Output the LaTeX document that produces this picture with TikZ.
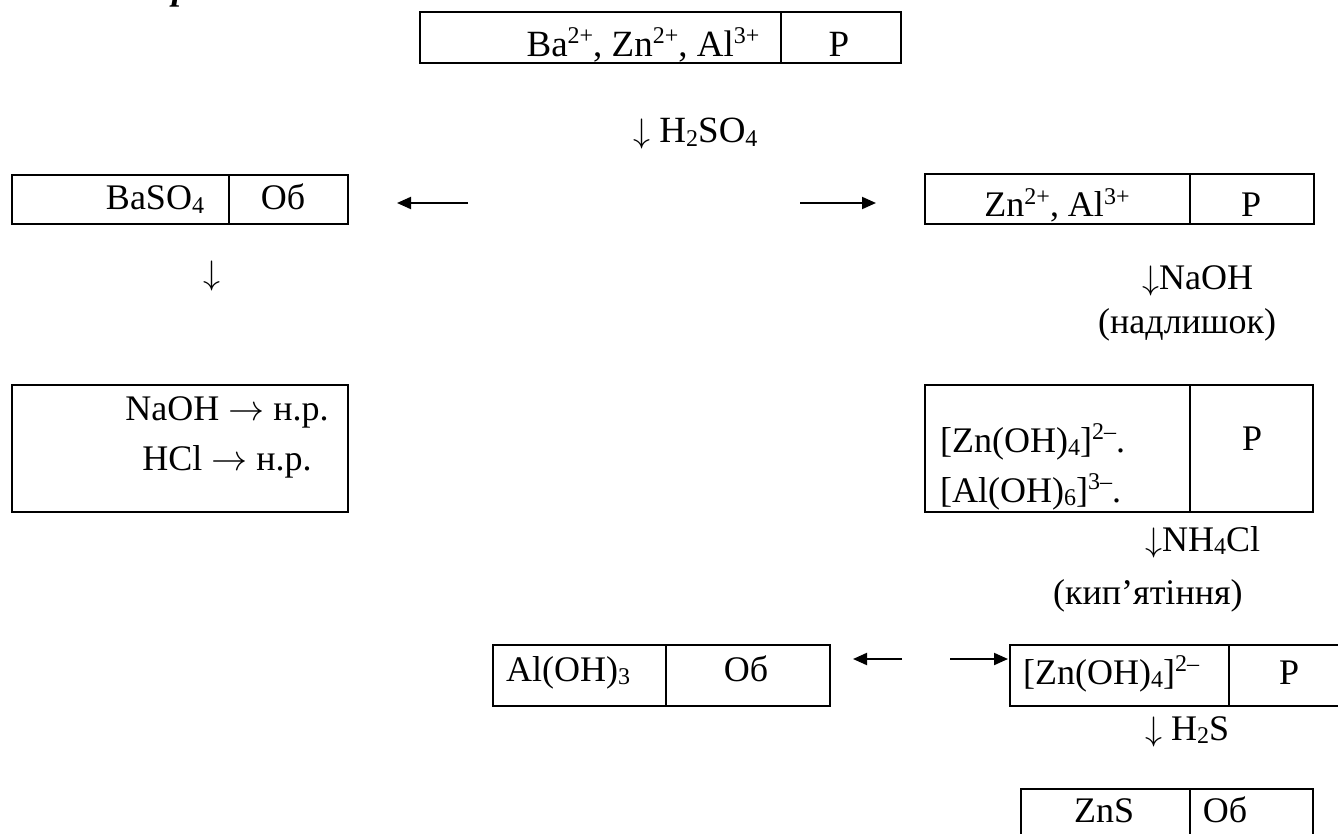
\documentclass[tikz,border=0pt]{standalone}
\usepackage{graphicx}
\usepackage{fontspec}
\setmainfont{Liberation Serif}
\usetikzlibrary{arrows.meta,fit}
\newcommand\mysup[1]{\raisebox{0.36em}{\fontsize{24}{24}\selectfont #1}}
\newcommand\mysub[1]{\raisebox{-0.1em}{\fontsize{24}{24}\selectfont #1}}
\newcommand\dn{{\fontsize{10}{12}\selectfont\scalebox{3.4}{$\downarrow$}}}
\newcommand\rar{{\fontsize{10}{12}\selectfont\scalebox{3.6}{$\rightarrow$}}}
\begin{document}
\begin{tikzpicture}[x=1pt,y=-1pt,
  cell/.style={draw, line width=2pt, inner sep=0pt, outer sep=0pt},
  lbl/.style={inner sep=0pt, font=\fontsize{36}{43}\selectfont},
  biglbl/.style={inner sep=0pt, font=\fontsize{37}{45}\selectfont},
  harrow/.style={line width=2pt, -{Triangle[length=14pt,width=12pt]}}]
\clip (0,0) rectangle (1338,834);
\fill[white] (0,0) rectangle (1338,834);
% fragment of a cut-off heading letter
\node[anchor=base west, inner sep=0pt, font=\fontsize{36}{43}\selectfont\bfseries\itshape] (frag) at (172,0) {р};
% top box
\node[cell, fit={(420,12) (781,63)}] (topL) {};
\node[cell, fit={(781,12) (901,63)}] (topR) {};
\node[biglbl, anchor=base] (tTop) at (643,57) {Ba\mysup{2+}, Zn\mysup{2+}, Al\mysup{3+}};
\node[biglbl, anchor=base] (tTopR) at (839,57) {Р};
\node[biglbl, anchor=base west] (tH2SO4) at (633,143) {\dn\ H\mysub{2}SO\mysub{4}};
% BaSO4 box
\node[cell, fit={(12,175) (229,224)}] (baL) {};
\node[cell, fit={(229,175) (348,224)}] (baR) {};
\node[lbl, anchor=base] (tBa) at (155,210) {BaSO\mysub{4}};
\node[lbl, anchor=base] (tBaR) at (283,210) {Об};
\coordinate (aL1) at (468,203);
\coordinate (aL2) at (397,203);
\draw[harrow] (aL1) -- (aL2);
\node[lbl, anchor=base] (tDown1) at (212,284) {\dn};
% Zn, Al box
\coordinate (aR1) at (800,203);
\coordinate (aR2) at (876,203);
\draw[harrow] (aR1) -- (aR2);
\node[cell, fit={(925,174) (1190,224)}] (znL) {};
\node[cell, fit={(1190,174) (1314,224)}] (znR) {};
\node[lbl, anchor=base] (tZn) at (1057,217) {Zn\mysup{2+}, Al\mysup{3+}};
\node[lbl, anchor=base] (tZnR) at (1251,217) {Р};
\node[lbl, anchor=base west] (tNaOH) at (1142,290) {\dn NaOH};
\node[lbl, anchor=base west] (tExcess) at (1098,333) {(надлишок)};
% NaOH / HCl box
\node[cell, fit={(12,385) (348,512)}] (resBox) {};
\node[lbl, anchor=base] (tRes1) at (227,420) {NaOH \rar\ н.р.};
\node[lbl, anchor=base] (tRes2) at (227,470) {HCl \rar\ н.р.};
% complex box
\node[cell, fit={(925,385) (1190,512)}] (cxL) {};
\node[cell, fit={(1190,385) (1313,512)}] (cxR) {};
\node[lbl, anchor=base west] (tCx1) at (940,452) {[Zn(OH)\mysub{4}]\mysup{2–}.};
\node[lbl, anchor=base west] (tCx2) at (940,502) {[Al(OH)\mysub{6}]\mysup{3–}.};
\node[lbl, anchor=base] (tCxR) at (1252,450) {Р};
\node[lbl, anchor=base west] (tNH4Cl) at (1145,551) {\dn NH\mysub{4}Cl};
\node[lbl, anchor=base west] (tBoil) at (1053,604) {(кип’ятіння)};
% Al(OH)3 box
\node[cell, fit={(493,645) (666,706)}] (alL) {};
\node[cell, fit={(666,645) (830,706)}] (alR) {};
\node[lbl, anchor=base west] (tAl) at (506,681) {Al(OH)\mysub{3}};
\node[lbl, anchor=base] (tAlR) at (746,681) {Об};
\coordinate (bL1) at (902,659);
\coordinate (bL2) at (853,659);
\draw[harrow] (bL1) -- (bL2);
\coordinate (bR1) at (950,659);
\draw[harrow] (bR1) -- (1008,659) coordinate (bR2);
% [Zn(OH)4]2- box
\node[cell, fit={(1010,645) (1229,706)}] (zhL) {};
\node[cell, fit={(1229,645) (1348,706)}] (zhR) {};
\node[lbl, anchor=base west] (tZh) at (1023,684) {[Zn(OH)\mysub{4}]\mysup{2–}};
\node[lbl, anchor=base] (tZhR) at (1289,684) {Р};
\node[lbl, anchor=base west] (tH2S) at (1145,740) {\dn\ H\mysub{2}S};
% ZnS box
\node[cell, fit={(1021,789) (1190,850)}] (zsL) {};
\node[cell, fit={(1190,789) (1313,850)}] (zsR) {};
\node[lbl, anchor=base] (tZnS) at (1104,822) {ZnS};
\node[lbl, anchor=base] (tZnSR) at (1225,822) {Об};
\end{tikzpicture}
\end{document}
